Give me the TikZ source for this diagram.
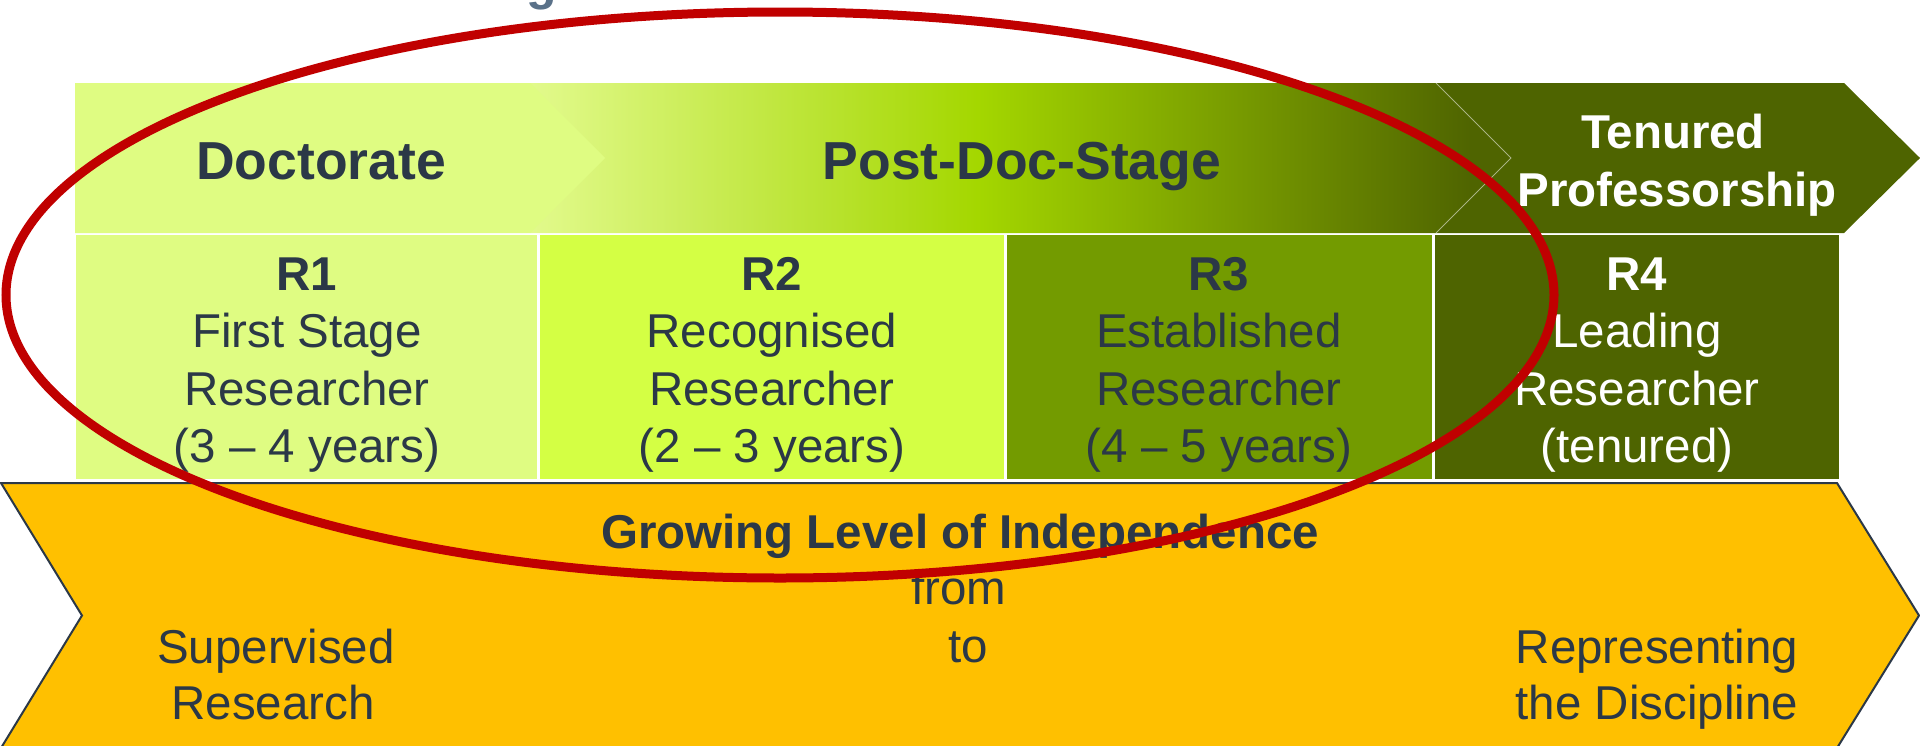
\documentclass[tikz,border=0pt]{standalone}
\usepackage{fontspec}
\setmainfont{Liberation Sans}

% palette
\definecolor{ink}{HTML}{2B3847}
\definecolor{titleblue}{HTML}{5A7189}
\definecolor{docgreen}{HTML}{DFFC82}
\definecolor{pdlight}{HTML}{E2FA8C}
\definecolor{pdlime}{HTML}{A4D700}
\definecolor{pddark}{HTML}{4F6400}
\definecolor{rtwo}{HTML}{D4FF44}
\definecolor{rthree}{HTML}{739B00}
\definecolor{olive}{HTML}{4E6400}
\definecolor{amber}{HTML}{FFC000}
\definecolor{ringred}{HTML}{C00000}

% light -> lime -> dark olive across the post-doc arrow (path box = 25bp..75bp)
\pgfdeclarehorizontalshading{postdoc}{100bp}{%
  color(0bp)=(pdlight); color(25bp)=(pdlight); color(47.8bp)=(pdlime);
  color(73bp)=(pddark); color(100bp)=(pddark)}

\newcommand\bodysize{\fontsize{47.5}{57}\selectfont}
\newcommand\headsize{\fontsize{53.5}{64}\selectfont}

\tikzset{
  txt/.style={anchor=base, inner sep=0pt, outer sep=0pt, text=ink, font=\bodysize},
  boldtxt/.style={txt, font=\bodysize\bfseries},
  headtxt/.style={txt, font=\headsize\bfseries},
  cellbox/.style={draw=none},
  bandedge/.style={draw=white, draw opacity=0.45, line width=1pt},
  ring/.style={draw=ringred, line width=9pt},
}

% one researcher-profile column: four centred lines
\newcommand\rcell[7]{%
  \node[boldtxt, text=#3] (#1a) at (#2,290) {#4};
  \node[txt, text=#3] (#1b) at (#2,347.5) {#5};
  \node[txt, text=#3] (#1c) at (#2,405) {#6};
  \node[txt, text=#3] (#1d) at (#2,462.5) {#7};
}

\begin{document}
\begin{tikzpicture}[x=1pt, y=-1pt]
\useasboundingbox (0,0) rectangle (1920,745);
\clip (0,0) rectangle (1920,745);
\fill[white] (0,0) rectangle (1920,745);

% bottom of a heading letter cut by the top edge
\node[anchor=base, inner sep=0pt, text=titleblue, font=\fontsize{50}{60}\selectfont\bfseries] (headg) at (542,-1) {g};

% ---- career-stage arrows ----
\shade[shading=postdoc] (530,83) -- (1436,83) -- (1511,158) -- (1436,233) -- (530,233) -- cycle;
\fill[docgreen] (75,83) -- (530,83) -- (605,158) -- (530,233) -- (75,233) -- cycle;
\fill[olive] (1436,83) -- (1844,83) -- (1920,158) -- (1844,233) -- (1436,233) -- (1511,158) -- cycle;
\draw[bandedge] (1436,83) -- (1511,158) -- (1436,233);

\node[headtxt] (doctorate) at (321,179) {Doctorate};
\node[headtxt] (postdoc) at (1022,179) {Post-Doc-Stage};
\node[boldtxt, text=white] (tenured) at (1673,148) {Tenured};
\node[boldtxt, text=white] (professorship) at (1677,206) {Professorship};

% ---- researcher profiles R1..R4 ----
\fill[docgreen] (76,235) rectangle (537,479);
\fill[rtwo] (540,235) rectangle (1004,479);
\fill[rthree] (1006.5,235) rectangle (1432,479);
\fill[olive] (1435,235) rectangle (1839,479);

\rcell{rone}{307}{ink}{R1}{First Stage}{Researcher}{(3 – 4 years)}
\rcell{rtwo}{772}{ink}{R2}{Recognised}{Researcher}{(2 – 3 years)}
\rcell{rthree}{1219}{ink}{R3}{Established}{Researcher}{(4 – 5 years)}
\rcell{rfour}{1637}{white}{R4}{Leading}{Researcher}{(tenured)}

% ---- independence arrow ----
\draw[fill=amber, draw=ink, line width=2pt, line join=miter]
  (1,483) -- (1837,483) -- (1919,615.5) -- (1837,748) -- (1,748) -- (82,615.5) -- cycle;

\node[boldtxt] (growing) at (960,548) {Growing Level of Independence};
\node[txt] (from) at (959,604) {from};
\node[txt] (to) at (968,662) {to};
\node[txt] (supervised) at (276,663) {Supervised};
\node[txt] (research) at (273,719) {Research};
\node[txt] (representing) at (1657,663) {Representing};
\node[txt] (discipline) at (1657,719) {the Discipline};

% ---- highlight ring ----
\draw[ring] (780,295) ellipse [x radius=774pt, y radius=283pt];
\end{tikzpicture}
\end{document}
